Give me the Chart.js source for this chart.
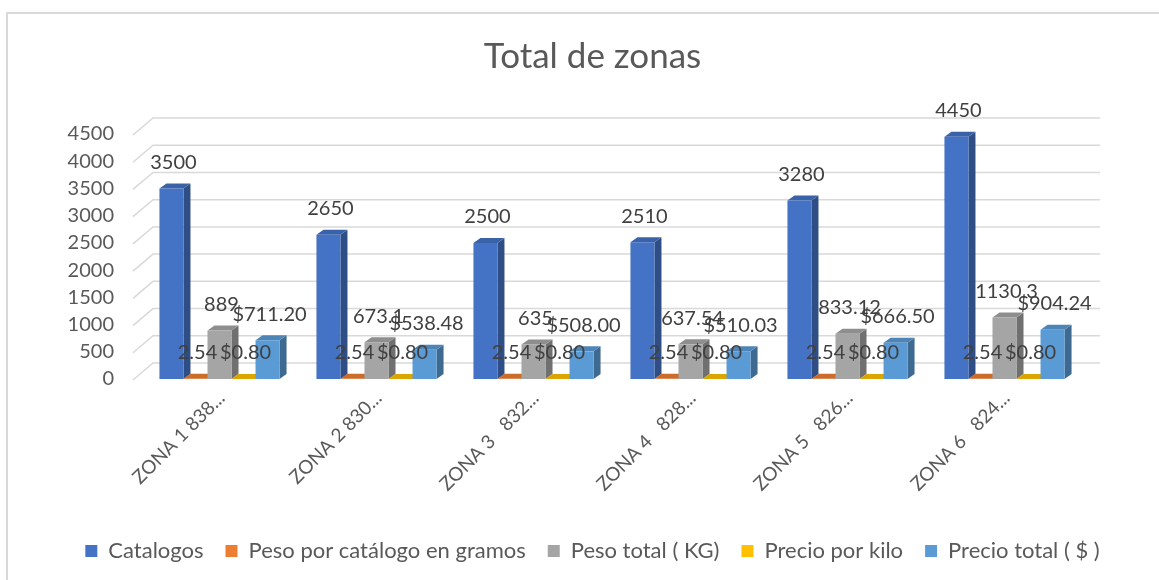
<!DOCTYPE html>
<html>
<head>
<meta charset="utf-8">
<script src="https://cdn.jsdelivr.net/npm/chart.js@4/dist/chart.umd.min.js"></script>
<style>
  html, body { margin: 0; padding: 0; background: #fff; overflow: hidden; }
  #wrap { position: relative; width: 1159px; height: 580px; }
  #frame { position: absolute; left: 6px; top: 12px; width: 1200px; height: 600px;
           border: 2px solid #d9d9d9; box-sizing: border-box; }
  #grafico { position: absolute; left: 0; top: 0; }
</style>
</head>
<body>
<div id="wrap">
  <div id="frame"></div>
  <canvas id="grafico" width="1159" height="580"></canvas>
</div>
<script>
// datos de la tabla
const zonas = ['ZONA 1 838...', 'ZONA 2 830...', 'ZONA 3   832...', 'ZONA 4   828...', 'ZONA 5   826...', 'ZONA 6   824...'];
const catalogos = [3500, 2650, 2500, 2510, 3280, 4450];
const pesoCatalogo = [2.54, 2.54, 2.54, 2.54, 2.54, 2.54];
const pesoTotal = [889, 673.1, 635, 637.54, 833.12, 1130.3];
const precioKilo = [0.80, 0.80, 0.80, 0.80, 0.80, 0.80];
const precioTotal = [711.20, 538.48, 508.00, 510.03, 666.50, 904.24];
const ticksY = [0, 500, 1000, 1500, 2000, 2500, 3000, 3500, 4000, 4500];

const colores = ['#4472C4', '#ED7D31', '#A5A5A5', '#FFC000', '#5B9BD5'];

function sombra(hex, f) {
    const n = parseInt(hex.slice(1), 16);
    const r = Math.round(((n >> 16) & 255) * f);
    const g = Math.round(((n >> 8) & 255) * f);
    const b = Math.round((n & 255) * f);
    return 'rgb(' + r + ',' + g + ',' + b + ')';
}

function fmtNum(v) { return String(v); }
function fmtPeso(v) { return '$' + v.toFixed(2); }

Chart.defaults.font.family = 'Lato, "Liberation Sans", sans-serif';
Chart.defaults.color = '#595959';

// paredes y cuadricula en perspectiva, caras laterales de las barras
const efecto3d = {
    id: 'efecto3d',
    beforeDatasetsDraw(chart) {
        const ctx = chart.ctx;
        const y = chart.scales.y;
        const area = chart.chartArea;
        ctx.save();
        ctx.strokeStyle = '#d9d9d9';
        ctx.lineWidth = 1.5;
        ticksY.forEach(v => {
            const py = y.getPixelForValue(v);
            ctx.beginPath();
            ctx.moveTo(area.left - 8, py + 1);
            ctx.lineTo(area.left + 12, py - 16);
            ctx.lineTo(area.right + 17, py - 16);
            ctx.stroke();
        });
        const dx = 7, dy = 5;
        chart.data.datasets.forEach((ds, i) => {
            const meta = chart.getDatasetMeta(i);
            meta.data.forEach(bar => {
                const l = bar.x - bar.width / 2, r = bar.x + bar.width / 2;
                const top = bar.y, base = bar.base;
                ctx.fillStyle = sombra(ds.backgroundColor, 0.68);
                ctx.beginPath();
                ctx.moveTo(r, top); ctx.lineTo(r + dx, top - dy);
                ctx.lineTo(r + dx, base - dy); ctx.lineTo(r, base);
                ctx.closePath(); ctx.fill();
                ctx.fillStyle = sombra(ds.backgroundColor, 0.86);
                ctx.beginPath();
                ctx.moveTo(l, top); ctx.lineTo(l + dx, top - dy);
                ctx.lineTo(r + dx, top - dy); ctx.lineTo(r, top);
                ctx.closePath(); ctx.fill();
            });
        });
        ctx.restore();
    },
    afterDatasetsDraw(chart) {
        const ctx = chart.ctx;
        ctx.save();
        ctx.font = '20px Lato, "Liberation Sans", sans-serif';
        ctx.fillStyle = '#404040';
        ctx.textAlign = 'center';
        ctx.textBaseline = 'middle';
        chart.data.datasets.forEach((ds, i) => {
            const meta = chart.getDatasetMeta(i);
            meta.data.forEach((bar, j) => {
                ctx.fillText(ds.fmt(ds.data[j]), bar.x + 2, bar.y - 26);
            });
        });
        ctx.restore();
    }
};

const ctx = document.getElementById('grafico').getContext('2d');
new Chart(ctx, {
    type: 'bar',
    data: {
        labels: zonas,
        datasets: [
            { label: 'Catalogos', data: catalogos, backgroundColor: colores[0], fmt: fmtNum },
            { label: 'Peso por catálogo en gramos', data: pesoCatalogo, backgroundColor: colores[1], fmt: fmtNum },
            { label: 'Peso total ( KG)', data: pesoTotal, backgroundColor: colores[2], fmt: fmtNum },
            { label: 'Precio por kilo', data: precioKilo, backgroundColor: colores[3], fmt: fmtPeso },
            { label: 'Precio total ( $ )', data: precioTotal, backgroundColor: colores[4], fmt: fmtPeso }
        ]
    },
    options: {
        responsive: false,
        animation: false,
        layout: { padding: { left: 46, right: 20, top: 22, bottom: 8 } },
        datasets: { bar: { barPercentage: 1, categoryPercentage: 0.765 } },
        plugins: {
            title: {
                display: true,
                text: 'Total de zonas',
                color: '#595959',
                font: { size: 35, weight: 'normal' },
                padding: { top: 14, bottom: 56 }
            },
            legend: {
                position: 'bottom',
                labels: {
                    color: '#595959',
                    font: { size: 22 },
                    boxWidth: 12,
                    boxHeight: 12,
                    padding: 22
                }
            },
            tooltip: { enabled: false }
        },
        scales: {
            x: {
                grid: { display: false },
                border: { display: false },
                ticks: {
                    color: '#595959',
                    font: { size: 19 },
                    minRotation: 45,
                    maxRotation: 45,
                    labelOffset: 2,
                    padding: 0
                },
                afterFit: (scale) => { scale.height = 139; }
            },
            y: {
                min: 0,
                max: 4500,
                grid: { display: false },
                border: { display: false },
                afterBuildTicks: (scale) => { scale.ticks = ticksY.map(v => ({ value: v })); },
                afterFit: (scale) => { scale.width = 95; },
                ticks: {
                    color: '#595959',
                    font: { size: 20 },
                    padding: 19,
                    autoSkip: false,
                    callback: (v) => String(v)
                }
            },
            derecha: {
                type: 'linear',
                position: 'right',
                display: true,
                grid: { display: false },
                border: { display: false },
                ticks: { display: false },
                afterFit: (scale) => { scale.width = 56; }
            }
        }
    },
    plugins: [efecto3d]
});
</script>
</body>
</html>
